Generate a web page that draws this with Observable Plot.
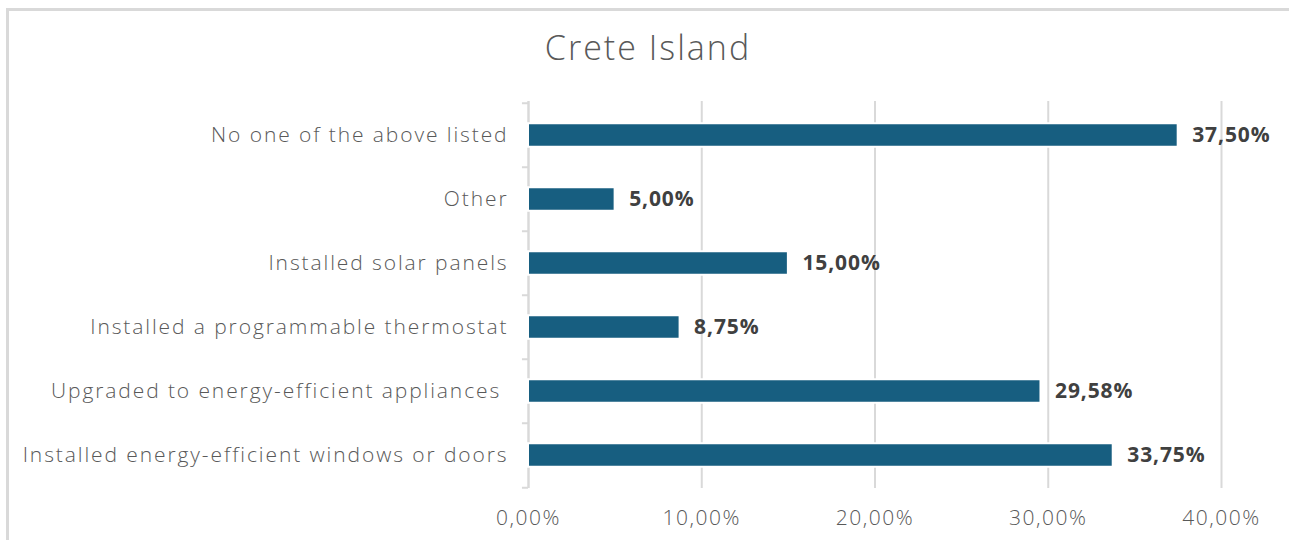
<!DOCTYPE html>
<html>
<head>
<meta charset="utf-8">
<script src="https://cdn.jsdelivr.net/npm/d3@7"></script>
<script src="https://cdn.jsdelivr.net/npm/@observablehq/plot@0.6"></script>
<style>
  html, body { margin: 0; padding: 0; background: #fff; width: 1289px; height: 540px; overflow: hidden; }
  #frame { position: absolute; left: 6px; top: 8px; width: 1300px; height: 560px;
           border-top: 3px solid #d9d9d9; border-left: 3px solid #d9d9d9; box-sizing: border-box; }
  #title { position: absolute; left: 0; top: 27px; width: 1296px; text-align: center;
           font-family: "Open Sans", sans-serif; font-weight: 300; font-size: 34px; letter-spacing: 2px;
           color: #595959; line-height: 40px; }
  #chart { position: absolute; left: 0; top: 0; }
  #chart svg g[aria-label="y-axis tick label"] text { letter-spacing: 1.9px; }
  #chart svg g[aria-label="x-axis tick label"] text { letter-spacing: 1.5px; }
  #chart svg g[aria-label="text"] text { letter-spacing: 0.9px; }
</style>
</head>
<body>
<div id="frame"></div>
<div id="title">Crete Island</div>
<div id="chart"></div>
<script>
const categories = [
  "No one of the above listed",
  "Other",
  "Installed solar panels",
  "Installed a programmable thermostat",
  "Upgraded to energy-efficient appliances ",
  "Installed energy-efficient windows or doors"
];
const values = [0.375, 0.05, 0.15, 0.0875, 0.2958, 0.3375];
const xTicks = [0, 0.1, 0.2, 0.3, 0.4];

const data = categories.map((c, i) => ({category: c, value: values[i]}));
const locale = d3.formatLocale({decimal: ",", thousands: ".", grouping: [3], currency: ["", "€"], percent: "%"});
const pct = locale.format(".2%");

const W = 1289, H = 540;
const mTop = 101, mBottom = 52, mLeft = 528, mRight = 68;
const band = (H - mTop - mBottom) / categories.length;

const chart = Plot.plot({
  width: W,
  height: H,
  marginTop: mTop,
  marginBottom: mBottom,
  marginLeft: mLeft,
  marginRight: mRight,
  style: {fontFamily: "Open Sans, sans-serif", background: "transparent", overflow: "visible"},
  x: {domain: [0, 0.4], label: null},
  y: {domain: categories, padding: 0, label: null},
  marks: [
    Plot.gridX(xTicks, {stroke: "#d9d9d9", strokeOpacity: 1, strokeWidth: 2}),
    Plot.ruleX([0], {stroke: "#d9d9d9", strokeWidth: 2}),
    Plot.ruleY(categories, {y: d => d, x1: 0, x2: -0.0035, dy: -band / 2, stroke: "#d9d9d9", strokeWidth: 2}),
    Plot.ruleY([categories[categories.length - 1]], {y: d => d, x1: 0, x2: -0.0035, dy: band / 2, stroke: "#d9d9d9", strokeWidth: 2}),
    Plot.barX(data, {y: "category", x: "value", fill: "#175e80", stroke: "#fff", strokeWidth: 2,
                     insetTop: (band - 24) / 2, insetBottom: (band - 24) / 2}),
    Plot.text(data, {y: "category", x: "value", text: d => pct(d.value), textAnchor: "start", dx: 14,
                     fontSize: 21, fontWeight: "bold", fill: "#404040"}),
    Plot.axisX(xTicks, {tickSize: 0, tickPadding: 22, tickFormat: pct, fontSize: 21, fontWeight: 300, color: "#595959", label: null}),
    Plot.axisY({tickSize: 0, tickPadding: 20, fontSize: 21, fontWeight: 300, color: "#595959", label: null})
  ]
});
document.getElementById("chart").appendChild(chart);
</script>
</body>
</html>
